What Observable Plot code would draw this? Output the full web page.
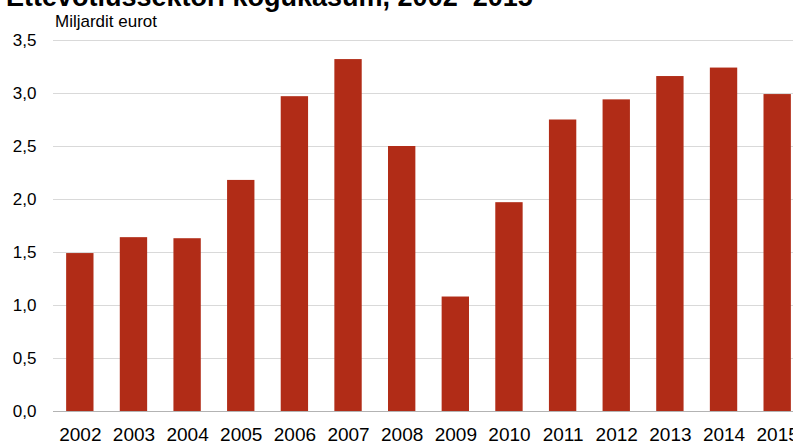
<!DOCTYPE html>
<html><head><meta charset="utf-8">
<script src="https://cdn.jsdelivr.net/npm/d3@7"></script>
<script src="https://cdn.jsdelivr.net/npm/@observablehq/plot@0.6"></script>
<style>
html,body{margin:0;padding:0;overflow:hidden;background:#fff;width:793px;height:441px;}
body{position:relative;font-family:"Liberation Sans",Arial,sans-serif;color:#000;}
#title{position:absolute;left:6px;top:-16px;font-size:27px;line-height:27px;font-weight:bold;white-space:nowrap;z-index:2}
#sub{position:absolute;left:55px;top:13px;font-size:17px;line-height:17px;white-space:nowrap;z-index:2}
#chart{position:absolute;left:0;top:0}
</style></head><body>
<div id="title">Ettevõtlussektori kogukasum, 2002–2015</div>
<div id="sub">Miljardit eurot</div>
<div id="chart"></div>
<script>
const years = ["2002","2003","2004","2005","2006","2007","2008","2009","2010","2011","2012","2013","2014","2015"];
const profits = [1.49, 1.64, 1.63, 2.18, 2.97, 3.32, 2.50, 1.08, 1.97, 2.75, 2.94, 3.16, 3.24, 2.99];
const yTicks = [0, 0.5, 1.0, 1.5, 2.0, 2.5, 3.0, 3.5];
const data = years.map((y, i) => ({year: y, value: profits[i]}));

const chart = Plot.plot({
  width: 804,
  height: 441,
  marginTop: 40,
  marginBottom: 30,
  marginLeft: 53,
  marginRight: 0,
  style: {fontFamily: '"Liberation Sans", Arial, sans-serif', fontSize: "17px", color: "#000", background: "transparent", maxWidth: "none", overflow: "hidden"},
  x: {type: "band", domain: years, paddingInner: 0.49, paddingOuter: 0.245, align: 0.5, round: false},
  y: {domain: [0, 3.5]},
  marks: [
    Plot.ruleY(yTicks.filter(d => d > 0), {stroke: "#d9d9d9", strokeWidth: 1}),
    Plot.barY(data, {x: "year", y: "value", fill: "#b12c17"}),
    Plot.ruleY([0], {stroke: "#b3b3b3", strokeWidth: 1}),
    Plot.axisY(yTicks, {tickSize: 0, tickPadding: 17, tickFormat: d => d.toFixed(1).replace(".", ","), fontSize: 17, label: null}),
    Plot.axisX({tickSize: 0, tickPadding: 16, fontSize: 19, label: null})
  ]
});
document.getElementById("chart").appendChild(chart);
</script>
</body></html>
